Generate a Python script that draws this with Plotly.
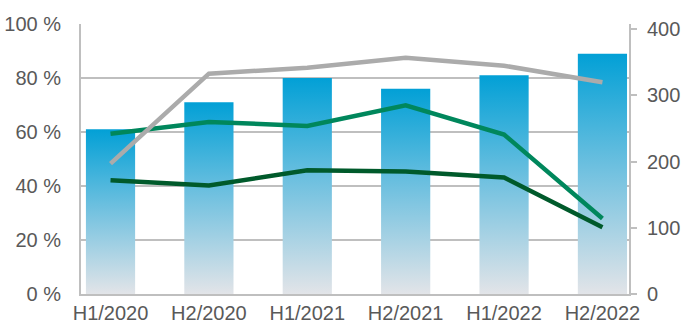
import plotly.graph_objects as go

# Half-year periods
periods = ["H1/2020", "H2/2020", "H1/2021", "H2/2021", "H1/2022", "H2/2022"]

# Bar series (left axis, percent)
share_pct = [61, 71, 80, 76, 81, 89]

# Line series (right axis)
series_gray = [197, 333, 342, 357, 345, 320]
series_green = [242, 260, 254, 285, 241, 114]
series_dark = [172, 164, 187, 185, 176, 101]

left_ticks = [0, 20, 40, 60, 80, 100]
left_tick_text = [f"{t} %" for t in left_ticks]
right_ticks = [0, 100, 200, 300, 400]

BAR_WIDTH = 0.5
AXIS_GRAY = "#BFBFBF"
TEXT_GRAY = "#595959"
FONT = dict(family="Liberation Sans, Arial, sans-serif", size=20, color=TEXT_GRAY)

fig = go.Figure()

# Bars with a vertical gradient, one filled shape per period
for i, v in enumerate(share_pct):
    x0, x1 = i - BAR_WIDTH / 2, i + BAR_WIDTH / 2
    fig.add_trace(go.Scatter(
        x=[x0, x0, x1, x1, x0],
        y=[0, v, v, 0, 0],
        mode="lines",
        fill="toself",
        fillgradient=dict(
            type="vertical",
            colorscale=[[0, "#E2E4E8"], [0.5, "#74C2E0"], [1, "#02A0D6"]],
        ),
        line=dict(width=0),
        hoverinfo="skip",
        showlegend=False,
    ))

x_idx = list(range(len(periods)))

for values, color in [(series_dark, "#005A2B"), (series_green, "#00875C"), (series_gray, "#ABABAB")]:
    fig.add_trace(go.Scatter(
        x=x_idx, y=values, yaxis="y2", mode="lines",
        line=dict(color=color, width=4.5),
        showlegend=False,
    ))

fig.update_layout(
    width=681, height=325,
    margin=dict(l=81, r=52, t=24, b=31),
    paper_bgcolor="white", plot_bgcolor="white",
    font=FONT,
    xaxis=dict(
        range=[-0.3, 5.27],
        tickvals=x_idx, ticktext=periods,
        showgrid=False, zeroline=False,
        showline=True, linecolor=AXIS_GRAY, linewidth=2,
        ticks="", ticklabelstandoff=0,
        tickfont=FONT, automargin=False,
    ),
    yaxis=dict(
        range=[0, 100],
        tickvals=left_ticks, ticktext=left_tick_text,
        showgrid=True, gridcolor=AXIS_GRAY, gridwidth=1.5,
        zeroline=False,
        showline=True, linecolor=AXIS_GRAY, linewidth=2,
        ticklabelstandoff=14,
        tickfont=FONT, automargin=False,
    ),
    yaxis2=dict(
        range=[0, 408], overlaying="y", side="right",
        tickvals=right_ticks,
        showgrid=False, zeroline=False,
        showline=True, linecolor=AXIS_GRAY, linewidth=2,
        ticks="outside", ticklen=6, tickcolor=AXIS_GRAY, tickwidth=2,
        ticklabelstandoff=6,
        tickfont=FONT, automargin=False,
    ),
)

fig.write_html("out.html")
